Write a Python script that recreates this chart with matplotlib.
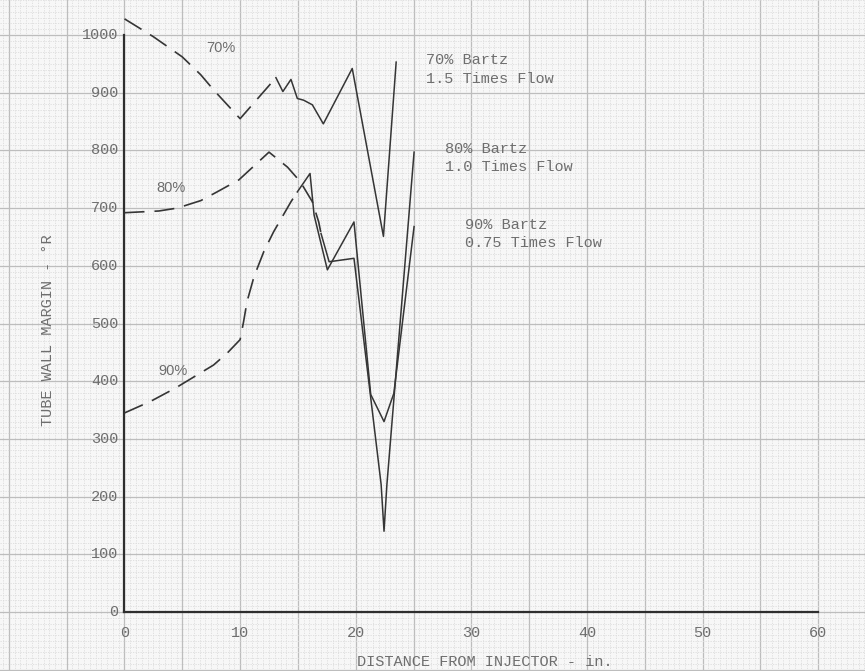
import numpy as np
import matplotlib
matplotlib.use("Agg")
import matplotlib.pyplot as plt

# --- data (distance in inches, margin in deg R) ---
x70_dash = [0, 2.5, 5.0, 6.6, 7.7, 10.0, 13.1]
y70_dash = [1028, 997, 962, 931, 905, 855, 926]
x70_solid = [13.1, 13.7, 14.4, 14.95, 15.5, 16.25, 17.2, 19.7, 22.4, 23.5]
y70_solid = [926, 902, 923, 890, 887, 879, 846, 942, 651, 953]

x80_dash = [0, 2.97, 4.56, 6.6, 8.0, 9.9, 12.5, 14.1, 15.2, 16.25, 16.8, 17.0]
y80_dash = [692, 695, 700, 713, 728, 749, 797, 771, 746, 711, 676, 656]
x80_solid = [17.0, 17.7, 19.85, 22.2, 22.45, 22.7, 25.05]
y80_solid = [656, 607, 613, 221, 140, 221, 797]

x90_dash = [0, 2.25, 4.4, 6.3, 7.7, 8.9, 10.0, 10.3, 10.6, 11.2, 12.06, 12.9, 14.4, 14.95]
y90_dash = [345, 365, 388, 411, 428, 449, 472, 503, 538, 581, 625, 659, 711, 728]
x90_solid = [14.95, 16.05, 16.4, 17.55, 19.85, 21.3, 22.45, 23.3, 25.05]
y90_solid = [728, 760, 688, 593, 676, 377, 330, 379, 668]

xticks = [0, 10, 20, 30, 40, 50, 60]
yticks = [0, 100, 200, 300, 400, 500, 600, 700, 800, 900, 1000]

ink = "#353535"
txt = "#6e6e6e"
mono = ["Liberation Mono", "DejaVu Sans Mono"]
sans = ["Liberation Sans", "DejaVu Sans"]

fig = plt.figure(figsize=(8.65, 6.71), dpi=100)
fig.patch.set_facecolor("#f7f7f7")
ax = fig.add_axes([0, 0, 1, 1])
ax.set_facecolor("#f7f7f7")
for s in ax.spines.values():
    s.set_visible(False)

# graph paper
ax.set_xticks(np.arange(-10, 66, 5))
ax.set_yticks(np.arange(-100, 1100, 100))
ax.set_xticks(np.arange(-11, 66, 0.5), minor=True)
ax.set_yticks(np.arange(-100, 1100, 10), minor=True)
ax.tick_params(which="both", length=0, labelbottom=False, labelleft=False)
ax.grid(which="major", color="#bdbdbd", lw=0.9)
ax.grid(which="minor", color="#dcdcdc", lw=0.6, ls=(0, (1.5, 1.5)))
ax.set_axisbelow(True)

# axes fill the whole sheet so the graph-paper grid runs edge to edge
# (limits set after the ticks, set_ticks would widen them otherwise)
ax.set_xlim(-124.5 / 11.56, (865 - 124.5) / 11.56)
ax.set_ylim(-(671 - 612) / 0.577, 612 / 0.577)

# hand-drawn axes
ax.plot([0, 0], [0, 1000], color="#2e2e2e", lw=1.6)
ax.plot([0, 60], [0, 0], color="#2e2e2e", lw=1.6)

# curves
dash = (0, (12, 6))
ax.plot(x70_dash, y70_dash, color=ink, lw=1.2, ls=dash)
ax.plot(x70_solid, y70_solid, color=ink, lw=1.1)
ax.plot(x80_dash, y80_dash, color=ink, lw=1.2, ls=dash)
ax.plot(x80_solid, y80_solid, color=ink, lw=1.1)
ax.plot(x90_dash, y90_dash, color=ink, lw=1.2, ls=dash)
ax.plot(x90_solid, y90_solid, color=ink, lw=1.1)

# tick labels
for v in yticks:
    ax.text(-0.5, v, str(v), ha="right", va="center", color=txt,
            fontsize=11, family=mono)
for v in xticks:
    ax.text(v, -36, str(v), ha="center", va="center", color=txt,
            fontsize=11, family=mono)

ax.text(31.2, -87, "DISTANCE FROM INJECTOR - in.", ha="center", va="center",
        color=txt, fontsize=11, family=mono)
ax.text(-6.6, 489, "TUBE WALL MARGIN - °R", ha="center", va="center",
        rotation=90, color=txt, fontsize=11, family=mono)

# curve labels
ax.text(7.1, 977, "70%", color=txt, fontsize=10.5, family=sans, va="center")
ax.text(2.8, 735, "80%", color=txt, fontsize=10.5, family=sans, va="center")
ax.text(2.9, 418, "90%", color=txt, fontsize=10.5, family=sans, va="center")

notes = [
    (26.1, 957, "70% Bartz"), (26.1, 924, "1.5 Times Flow"),
    (27.7, 802, "80% Bartz"), (27.7, 771, "1.0 Times Flow"),
    (29.45, 671, "90% Bartz"), (29.45, 640, "0.75 Times Flow"),
]
for nx, ny, s in notes:
    ax.text(nx, ny, s, color=txt, fontsize=11, family=mono, va="center")

fig.savefig("out.png", dpi=100, facecolor=fig.get_facecolor())
